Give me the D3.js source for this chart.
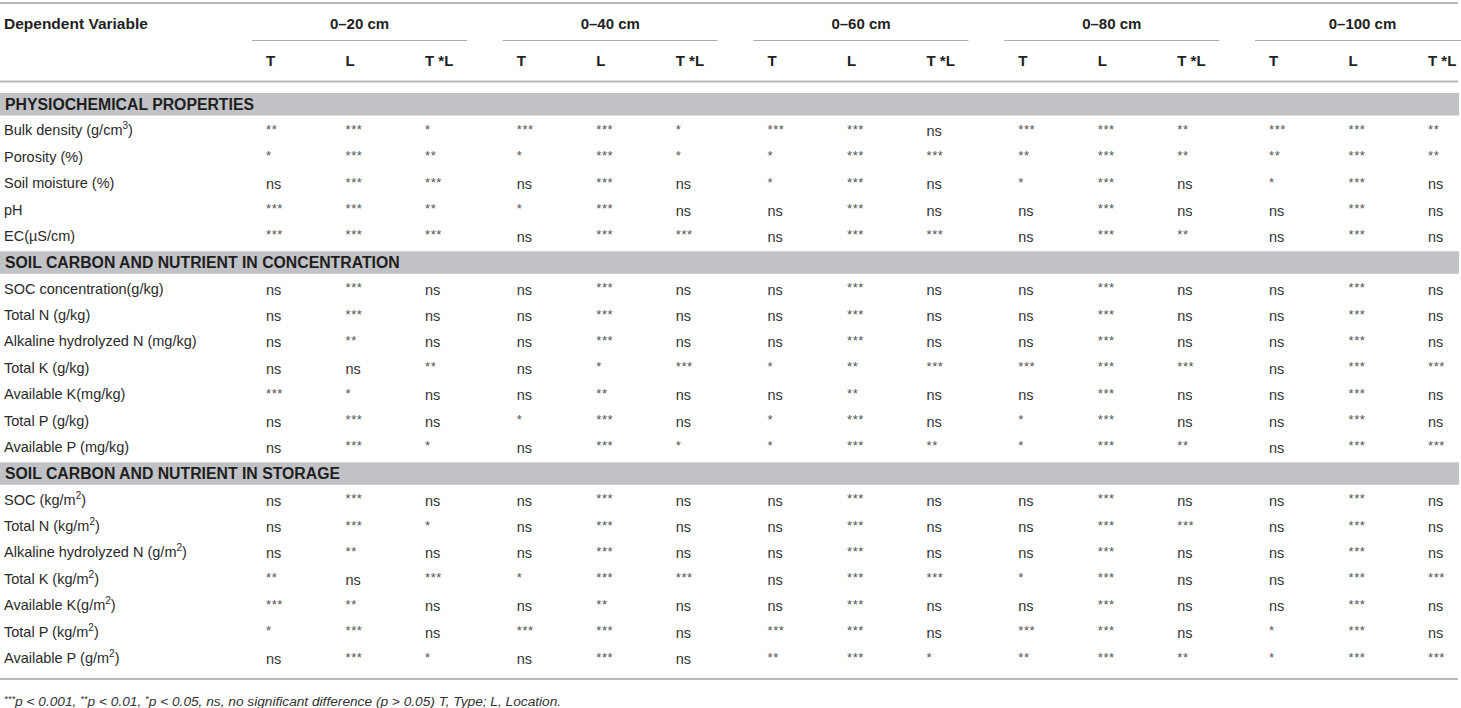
<!DOCTYPE html>
<html>
<head>
<meta charset="utf-8">
<script src="https://cdn.jsdelivr.net/npm/d3@7"></script>
<style>
  body { margin: 0; background: #fff; }
  svg { display: block; font-family: "Liberation Sans", Arial, Helvetica, sans-serif; }
</style>
</head>
<body>
<svg width="1461" height="708"></svg>
<script>
// depth ranges and the three effects tested in each
const ranges = ['0–20 cm', '0–40 cm', '0–60 cm', '0–80 cm', '0–100 cm'];
const effects = ['T', 'L', 'T *L'];

const sectionTitles = [
  'PHYSIOCHEMICAL PROPERTIES',
  'SOIL CARBON AND NUTRIENT IN CONCENTRATION',
  'SOIL CARBON AND NUTRIENT IN STORAGE'
];

// {..} marks superscript text
const physioVars = ['Bulk density (g/cm{3})', 'Porosity (%)', 'Soil moisture (%)', 'pH', 'EC(µS/cm)'];
const physioSig = [
  ['**', '***', '*',   '***', '***', '*',   '***', '***', 'ns',  '***', '***', '**',  '***', '***', '**'],
  ['*',  '***', '**',  '*',   '***', '*',   '*',   '***', '***', '**',  '***', '**',  '**',  '***', '**'],
  ['ns', '***', '***', 'ns',  '***', 'ns',  '*',   '***', 'ns',  '*',   '***', 'ns',  '*',   '***', 'ns'],
  ['***','***', '**',  '*',   '***', 'ns',  'ns',  '***', 'ns',  'ns',  '***', 'ns',  'ns',  '***', 'ns'],
  ['***','***', '***', 'ns',  '***', '***', 'ns',  '***', '***', 'ns',  '***', '**',  'ns',  '***', 'ns']
];

const concVars = ['SOC concentration(g/kg)', 'Total N (g/kg)', 'Alkaline hydrolyzed N (mg/kg)', 'Total K (g/kg)',
  'Available K(mg/kg)', 'Total P (g/kg)', 'Available P (mg/kg)'];
const concSig = [
  ['ns', '***', 'ns',  'ns', '***', 'ns',  'ns', '***', 'ns',  'ns',  '***', 'ns',  'ns', '***', 'ns'],
  ['ns', '***', 'ns',  'ns', '***', 'ns',  'ns', '***', 'ns',  'ns',  '***', 'ns',  'ns', '***', 'ns'],
  ['ns', '**',  'ns',  'ns', '***', 'ns',  'ns', '***', 'ns',  'ns',  '***', 'ns',  'ns', '***', 'ns'],
  ['ns', 'ns',  '**',  'ns', '*',   '***', '*',  '**',  '***', '***', '***', '***', 'ns', '***', '***'],
  ['***','*',   'ns',  'ns', '**',  'ns',  'ns', '**',  'ns',  'ns',  '***', 'ns',  'ns', '***', 'ns'],
  ['ns', '***', 'ns',  '*',  '***', 'ns',  '*',  '***', 'ns',  '*',   '***', 'ns',  'ns', '***', 'ns'],
  ['ns', '***', '*',   'ns', '***', '*',   '*',  '***', '**',  '*',   '***', '**',  'ns', '***', '***']
];

const storageVars = ['SOC (kg/m{2})', 'Total N (kg/m{2})', 'Alkaline hydrolyzed N (g/m{2})', 'Total K (kg/m{2})',
  'Available K(g/m{2})', 'Total P (kg/m{2})', 'Available P (g/m{2})'];
const storageSig = [
  ['ns', '***', 'ns',  'ns',  '***', 'ns',  'ns',  '***', 'ns',  'ns',  '***', 'ns',  'ns', '***', 'ns'],
  ['ns', '***', '*',   'ns',  '***', 'ns',  'ns',  '***', 'ns',  'ns',  '***', '***', 'ns', '***', 'ns'],
  ['ns', '**',  'ns',  'ns',  '***', 'ns',  'ns',  '***', 'ns',  'ns',  '***', 'ns',  'ns', '***', 'ns'],
  ['**', 'ns',  '***', '*',   '***', '***', 'ns',  '***', '***', '*',   '***', 'ns',  'ns', '***', '***'],
  ['***','**',  'ns',  'ns',  '**',  'ns',  'ns',  '***', 'ns',  'ns',  '***', 'ns',  'ns', '***', 'ns'],
  ['*',  '***', 'ns',  '***', '***', 'ns',  '***', '***', 'ns',  '***', '***', 'ns',  '*',  '***', 'ns'],
  ['ns', '***', '*',   'ns',  '***', 'ns',  '**',  '***', '*',   '**',  '***', '**',  '*',  '***', '***']
];

const headerLabel = 'Dependent Variable';
const footnote = '{***}p < 0.001, {**}p < 0.01, {*}p < 0.05, ns, no significant difference (p > 0.05) T, Type; L, Location.';

const svg = d3.select('svg');
const width = +svg.attr('width');

// flatten sections into one list of lines (band + its rows)
const sections = [
  { vars: physioVars, sig: physioSig },
  { vars: concVars, sig: concSig },
  { vars: storageVars, sig: storageSig }
];
const lines = [];
sections.forEach((s, i) => {
  lines.push({ type: 'band', key: 'b' + i, label: sectionTitles[i] });
  s.vars.forEach((v, j) => lines.push({ type: 'row', key: 'r' + i + '_' + j, label: v, sig: s.sig[j] }));
});

const yScale = d3.scalePoint().domain(lines.map(d => d.key)).range([104, 658]);
const groupX = d3.scaleBand().domain(ranges).range([252, 252 + 5 * 250.75]);
const effectX = d3.scalePoint().domain(effects).range([14, 173]);
const cellX = i => groupX(ranges[Math.floor(i / 3)]) + effectX(effects[i % 3]);

// writes text with {..} parts as superscripts
const richText = (sel, str, supSize, shift) => {
  let pending = 0;
  str.split(/\{([^}]*)\}/).forEach((part, k) => {
    if (!part) return;
    if (k % 2) {
      sel.append('tspan').attr('dy', pending - shift).attr('font-size', supSize).text(part);
      pending = shift;
    } else {
      sel.append('tspan').attr('dy', pending).text(part);
      pending = 0;
    }
  });
};

const ruleColor = '#b9b9b9';

// rules
[3, 81.5, 679].forEach(y => {
  svg.append('rect').attr('x', 0).attr('y', y - 1).attr('width', width - 3).attr('height', 2).attr('fill', ruleColor);
});

// header
svg.append('text')
  .attr('x', 4).attr('y', 23)
  .attr('dominant-baseline', 'central')
  .attr('font-size', 15.5).attr('font-weight', 'bold').attr('fill', '#222')
  .text(headerLabel);

const hdr = svg.append('g').selectAll('g').data(ranges).join('g')
  .attr('transform', d => `translate(${groupX(d)},0)`);

hdr.append('text')
  .attr('x', 107.5).attr('y', 23)
  .attr('text-anchor', 'middle').attr('dominant-baseline', 'central')
  .attr('font-size', 15).attr('font-weight', 'bold').attr('fill', '#222')
  .text(d => d);

hdr.append('line')
  .attr('x1', 0).attr('x2', 215).attr('y1', 40.5).attr('y2', 40.5)
  .attr('stroke', '#aaa').attr('stroke-width', 1);

hdr.selectAll('text.eff').data(effects).join('text')
  .attr('class', 'eff')
  .attr('x', d => effectX(d)).attr('y', 60.5)
  .attr('dominant-baseline', 'central')
  .attr('font-size', 15).attr('font-weight', 'bold').attr('fill', '#222')
  .text(d => d);

// section bands
const bands = lines.filter(d => d.type === 'band');
svg.append('g').selectAll('rect').data(bands).join('rect')
  .attr('x', 0).attr('y', d => yScale(d.key) - 11)
  .attr('width', width - 2).attr('height', 22.5)
  .attr('fill', '#c1c2c5');

svg.append('g').selectAll('text').data(bands).join('text')
  .attr('x', 5).attr('y', d => yScale(d.key))
  .attr('dominant-baseline', 'central')
  .attr('font-size', 15.8).attr('font-weight', 'bold').attr('fill', '#1e1e1e')
  .text(d => d.label);

// variable rows
const rows = lines.filter(d => d.type === 'row');
const rowG = svg.append('g').selectAll('g').data(rows).join('g')
  .attr('transform', d => `translate(0,${yScale(d.key)})`);

rowG.append('text')
  .attr('x', 4).attr('y', 0)
  .attr('dominant-baseline', 'central')
  .attr('font-size', 14.5).attr('fill', '#2a2a2a')
  .each(function (d) { richText(d3.select(this), d.label, 10, 5); });

rowG.selectAll('text.cell').data(d => d.sig).join('text')
  .attr('class', 'cell')
  .attr('x', (d, i) => cellX(i)).attr('y', d => d === 'ns' ? 1 : -1)
  .attr('dominant-baseline', 'central')
  .attr('font-size', d => d === 'ns' ? 14.5 : 13)
  .attr('letter-spacing', d => d === 'ns' ? 0 : 0.6)
  .attr('fill', d => d === 'ns' ? '#333' : '#555')
  .text(d => d);

// footnote
svg.append('text')
  .attr('x', 4).attr('y', 701)
  .attr('dominant-baseline', 'central')
  .attr('font-size', 13.7).attr('font-style', 'italic').attr('fill', '#333')
  .each(function () { richText(d3.select(this), footnote, 9.5, 3.5); });
</script>
</body>
</html>
